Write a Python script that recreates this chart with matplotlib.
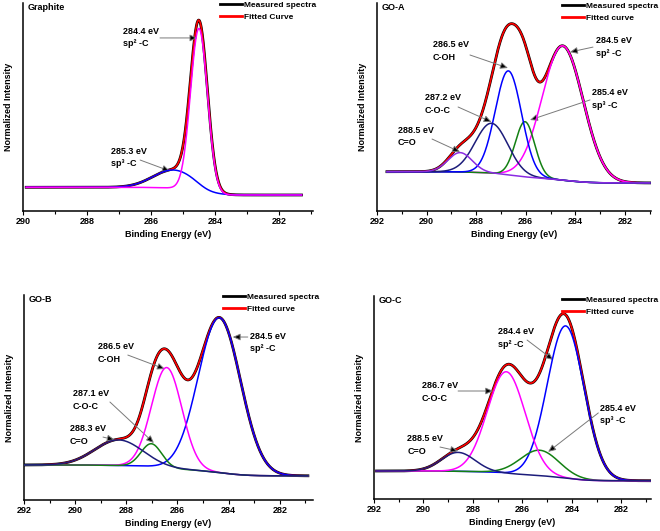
import numpy as np
import matplotlib
matplotlib.use('Agg')
import matplotlib.pyplot as plt
from matplotlib.lines import Line2D
from matplotlib.ticker import MultipleLocator

plt.rcParams['font.family'] = ['Liberation Sans Narrow', 'Liberation Sans', 'DejaVu Sans']
plt.rcParams['font.weight'] = 'bold'
plt.rcParams['axes.labelweight'] = 'bold'

# ------------------------------------------------------------------ data
# Graphite
gr_centers = [284.5, 285.3]           # sp2, sp3
gr_heights = [0.785, 0.087]
gr_fwhm = [0.62, 1.5]
gr_background = [0.114, 0.077]        # high-BE side, low-BE side
gr_energy_range = [289.9, 281.3]
gr_notes = ['284.4 eV\nsp² -C', '285.3 eV\nsp³ -C']

# GO-A
goa_centers = [288.65, 287.38, 286.7, 286.03, 284.51]   # C=O, C-O-C, C-OH, sp3, sp2
goa_heights = [0.093, 0.24, 0.5, 0.265, 0.646]
goa_fwhm = [1.15, 1.55, 1.25, 0.92, 1.95]
goa_background = [0.189, 0.135]
goa_energy_range = [291.6, 281.0]
goa_notes = ['288.5 eV\nC=O', '287.2 eV\nC-O-C', '286.5 eV\nC-OH', '285.4 eV\nsp³ -C', '284.5 eV\nsp² -C']

# GO-B
gob_centers = [288.3, 287.02, 286.42, 284.36]           # C=O, C-O-C, C-OH, sp2
gob_heights = [0.125, 0.112, 0.49, 0.756]
gob_fwhm = [2.2, 0.95, 1.4, 1.95]
gob_background = [0.171, 0.118]
gob_energy_range = [292.0, 280.9]
gob_notes = ['288.3 eV\nC=O', '287.1 eV\nC-O-C', '286.5 eV\nC-OH', '284.5 eV\nsp² -C']

# GO-C
goc_centers = [288.6, 286.65, 285.3, 284.25]            # C=O, C-O-C, sp3, sp2
goc_heights = [0.093, 0.5, 0.125, 0.75]
goc_fwhm = [1.6, 1.8, 1.85, 1.75]
goc_background = [0.138, 0.09]
goc_energy_range = [291.9, 280.8]
goc_notes = ['288.5 eV\nC=O', '286.7 eV\nC-O-C', '285.4 eV\nsp³ -C', '284.4 eV\nsp² -C']

# ------------------------------------------------------------------ styling / layout
W, H, DPI = 660, 531, 100
FS = 6.5
LFS = 6.0
NAVY = '#1c1c7a'
VIOLET = '#8a2be2'
GREEN = '#138013'

fig = plt.figure(figsize=(W / DPI, H / DPI), dpi=DPI)
fig.patch.set_facecolor('white')


def add_axes_px(l, t, r, b):
    return fig.add_axes([l / W, 1 - b / H, (r - l) / W, (b - t) / H])


def curves(E, centers, heights, fwhm, background):
    comps = [h * np.exp(-4 * np.log(2) * ((E - c) / w) ** 2)
             for c, h, w in zip(centers, heights, fwhm)]
    total = np.sum(comps, axis=0)
    cum = np.cumsum(total[::-1])[::-1]
    frac = cum / cum[0]
    bg = background[1] + (background[0] - background[1]) * frac
    return [bg + c for c in comps], bg + total


def setup(ax, xlim, title, ylabel):
    ax.set_xlim(*xlim)
    ax.set_ylim(0, 1)
    for s in ('top', 'right'):
        ax.spines[s].set_visible(False)
    for s in ('left', 'bottom'):
        ax.spines[s].set_linewidth(1.1)
    ax.set_yticks([])
    ax.xaxis.set_major_locator(MultipleLocator(2))
    ax.xaxis.set_minor_locator(MultipleLocator(1))
    ax.tick_params(axis='x', which='major', length=3, width=0.8, pad=1.5, labelsize=FS)
    ax.tick_params(axis='x', which='minor', length=2, width=0.8)
    ax.set_xlabel('Binding Energy (eV)', fontsize=FS, labelpad=3)
    ax.set_ylabel(ylabel, fontsize=FS, labelpad=7)
    ax.text(0.017, 0.998, title, transform=ax.transAxes, ha='left', va='top', fontsize=FS)


def legend(ax, x, y, fitted_label):
    handles = [Line2D([], [], color='black', lw=2),
               Line2D([], [], color='red', lw=2)]
    ax.legend(handles, ['Measured spectra', fitted_label], loc='upper left',
              bbox_to_anchor=(x / W, 1 - y / H), bbox_transform=fig.transFigure,
              frameon=False, fontsize=LFS, borderpad=0, borderaxespad=0,
              handlelength=2.6, handletextpad=0.3, labelspacing=0.55)


def note(ax, text, txy, tail, head):
    ax.text(txy[0], txy[1], text, ha='left', va='top', fontsize=FS, linespacing=1.5)
    ax.annotate('', xy=head, xytext=tail,
                arrowprops=dict(arrowstyle='-|>,head_length=0.45,head_width=0.2',
                                ec='#7a7a7a', fc='black', lw=0.7,
                                shrinkA=0, shrinkB=0))


def draw(ax, erange, centers, heights, fwhm, background, colors, order):
    E = np.linspace(erange[0], erange[1], 900)
    comps, fit = curves(E, centers, heights, fwhm, background)
    ax.plot(E, fit, color='black', lw=2.0, zorder=2)
    ax.plot(E, fit, color='red', lw=1.2, zorder=3)
    for k, i in enumerate(order):
        ax.plot(E, comps[i], color=colors[i], lw=1.1, zorder=4 + k)


# ---------------- Graphite
ax1 = add_axes_px(23, 3, 313, 211)
setup(ax1, (290, 280.94), 'Graphite', 'Normalized Intensity')
draw(ax1, gr_energy_range, gr_centers, gr_heights, gr_fwhm, gr_background,
     ['magenta', 'blue'], [1, 0])
legend(ax1, 220, 1, 'Fitted Curve')
note(ax1, gr_notes[0], (286.875, 0.885), (285.72, 0.832), (284.55, 0.832))
note(ax1, gr_notes[1], (287.25, 0.31), (286.34, 0.245), (285.41, 0.192))

# ---------------- GO-A
ax2 = add_axes_px(377, 3, 651, 211)
setup(ax2, (292, 280.95), 'GO-A', 'Normalized Intensity')
draw(ax2, goa_energy_range, goa_centers, goa_heights, goa_fwhm, goa_background,
     [VIOLET, NAVY, 'blue', GREEN, 'magenta'], [4, 3, 2, 1, 0])
legend(ax2, 562, 2, 'Fitted curve')
note(ax2, goa_notes[0], (291.15, 0.41), (289.78, 0.346), (288.65, 0.284))
note(ax2, goa_notes[1], (290.06, 0.565), (288.73, 0.50), (287.38, 0.428))
note(ax2, goa_notes[2], (289.74, 0.82), (288.25, 0.75), (286.72, 0.6875))
note(ax2, goa_notes[3], (283.33, 0.59), (283.41, 0.534), (285.83, 0.4375))
note(ax2, goa_notes[4], (283.17, 0.84), (283.29, 0.788), (284.22, 0.764))

# ---------------- GO-B
ax3 = add_axes_px(24, 295, 313, 500)
setup(ax3, (292, 280.7), 'GO-B', 'Normalized Intensity')
draw(ax3, gob_energy_range, gob_centers, gob_heights, gob_fwhm, gob_background,
     [NAVY, GREEN, 'magenta', 'blue'], [3, 2, 1, 0])
legend(ax3, 223, 293, 'Fitted curve')
note(ax3, gob_notes[0], (290.2, 0.37), (288.91, 0.307), (288.45, 0.293))
note(ax3, gob_notes[1], (290.09, 0.54), (288.64, 0.478), (286.92, 0.278))
note(ax3, gob_notes[2], (289.11, 0.77), (287.94, 0.707), (286.49, 0.639))
note(ax3, gob_notes[3], (283.17, 0.82), (283.25, 0.795), (283.84, 0.795))

# ---------------- GO-C
ax4 = add_axes_px(374, 296, 651, 499)
setup(ax4, (292, 280.8), 'GO-C', 'Normalized intensity')
draw(ax4, goc_energy_range, goc_centers, goc_heights, goc_fwhm, goc_background,
     [NAVY, 'magenta', GREEN, 'blue'], [3, 2, 1, 0])
legend(ax4, 562, 296, 'Fitted curve')
note(ax4, goc_notes[0], (290.66, 0.32), (289.33, 0.256), (288.6, 0.236))
note(ax4, goc_notes[1], (290.06, 0.58), (288.6, 0.532), (287.18, 0.532))
note(ax4, goc_notes[2], (282.85, 0.47), (282.93, 0.424), (284.96, 0.232))
note(ax4, goc_notes[3], (286.98, 0.845), (285.81, 0.783), (284.75, 0.685))

fig.savefig('out.png', dpi=DPI, facecolor='white')
